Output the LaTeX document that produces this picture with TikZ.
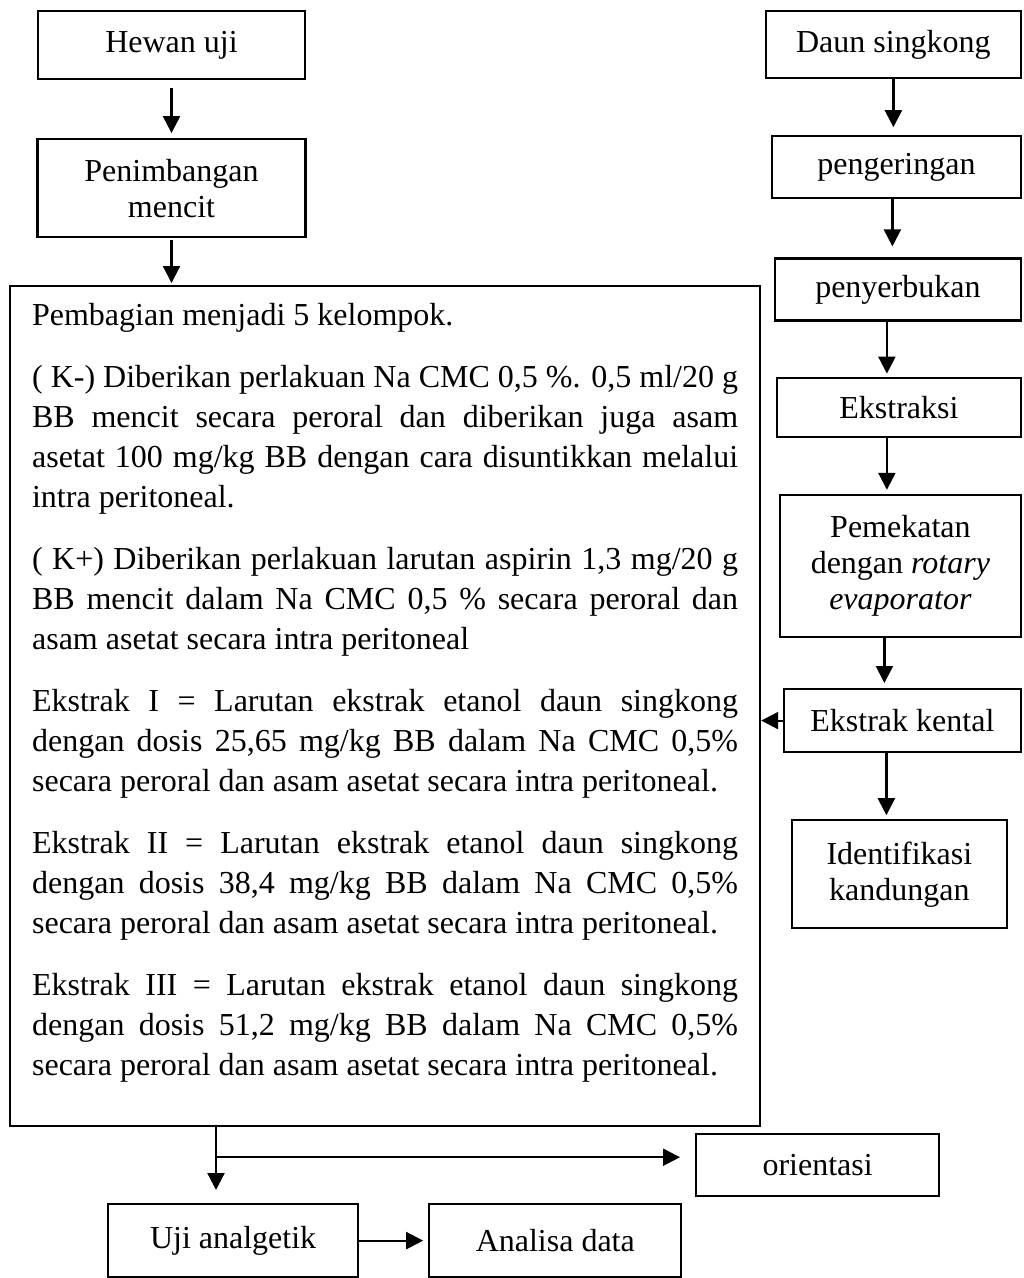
\documentclass[tikz,border=0pt]{standalone}
\usepackage{fontspec}
\setmainfont{Liberation Serif}
\usetikzlibrary{arrows.meta,positioning}

\begin{document}
\begin{tikzpicture}[x=1pt, y=-1pt, line width=2.2pt,
    kotak/.style = {draw, align=center, inner sep=0pt, font=\fontsize{32}{36}\selectfont},
    panah/.style = {-{Triangle[length=17pt, width=17pt]}}]
    \useasboundingbox (0,0) rectangle (1024,1278);
    % kolom kiri
    \node[kotak, minimum width=267pt, minimum height=68pt] (hewan) at (171.5,45) {Hewan uji};
    \node[kotak, minimum width=268pt, minimum height=98pt, below=58pt of hewan] (timbang) {Penimbangan\\mencit};
    \node[kotak, minimum width=750pt, minimum height=840pt, anchor=north west] (bagi) at (9,285) {};
    \node[anchor=base west, text width=706pt, align=justify, inner sep=0pt,
          font=\fontsize{32}{40}\selectfont] (isi) at (31,325)
        {\setlength{\parskip}{22pt}\hyphenpenalty=10000 \tolerance=9999
         Pembagian menjadi 5 kelompok.\par
         ( K-) Diberikan perlakuan Na CMC 0,5 \%. 0,5 ml/20 g\linebreak
         BB mencit secara peroral dan diberikan juga asam\linebreak
         asetat 100 mg/kg BB dengan cara disuntikkan melalui\linebreak
         intra peritoneal.\par
         ( K+) Diberikan perlakuan larutan aspirin 1,3 mg/20 g\linebreak
         BB mencit dalam Na CMC 0,5 \% secara peroral dan\linebreak
         asam asetat secara intra peritoneal\par
         Ekstrak I = Larutan ekstrak etanol daun singkong\linebreak
         dengan dosis 25,65 mg/kg BB dalam Na CMC 0,5\%\linebreak
         secara peroral dan asam asetat secara intra peritoneal.\par
         Ekstrak II = Larutan ekstrak etanol daun singkong\linebreak
         dengan dosis 38,4 mg/kg BB dalam Na CMC 0,5\%\linebreak
         secara peroral dan asam asetat secara intra peritoneal.\par
         Ekstrak III = Larutan ekstrak etanol daun singkong\linebreak
         dengan dosis 51,2 mg/kg BB dalam Na CMC 0,5\%\linebreak
         secara peroral dan asam asetat secara intra peritoneal.\par};
    % kolom kanan
    \node[kotak, minimum width=255pt, minimum height=67pt, anchor=north east] (daun) at (1022,10) {Daun singkong};
    \node[kotak, minimum width=249pt, minimum height=62pt, below=56pt of daun.south east, anchor=north east] (kering) {pengeringan};
    \node[kotak, minimum width=246pt, minimum height=62pt, below=58pt of kering.south east, anchor=north east] (serbuk) {penyerbukan};
    \node[kotak, minimum width=244pt, minimum height=59pt, below=55pt of serbuk.south east, anchor=north east] (ekstraksi) {Ekstraksi};
    \node[kotak, minimum width=241pt, minimum height=142pt, below=56pt of ekstraksi.south east, anchor=north east] (pekat) {Pemekatan\\dengan \textit{rotary}\\\textit{evaporator}};
    \node[kotak, minimum width=237pt, minimum height=63pt, below=50pt of pekat.south east, anchor=north east] (kental) {Ekstrak kental};
    \node[kotak, minimum width=215pt, minimum height=108pt, below=66pt of kental, xshift=-3pt] (identifikasi) {Identifikasi\\kandungan};
    % bagian bawah
    \node[kotak, minimum width=243pt, minimum height=62pt, anchor=north west] (orientasi) at (695,1133) {orientasi};
    \node[kotak, minimum width=250pt, minimum height=73pt, anchor=north west] (uji) at (107,1203) {Uji analgetik};
    \node[kotak, minimum width=252pt, minimum height=73pt, right=69pt of uji] (analisa) {Analisa data};
    \coordinate (turun) at ([xshift=207pt]bagi.south west);
    \coordinate (cabang) at ([yshift=-30pt]turun);
    % panah
    \draw[panah, shorten <=8pt, shorten >=5pt] (hewan) -- (timbang);
    \draw[panah, shorten <=2pt, shorten >=2pt] (timbang) -- (timbang |- bagi.north);
    \draw[panah, shorten >=8pt] (daun) -- (daun |- kering.north);
    \draw[panah, shorten >=11pt] ([xshift=-4pt]kering.south) -- ([xshift=-4pt]kering.south |- serbuk.north);
    \draw[panah, shorten >=3pt] ([xshift=-11pt]serbuk.south) -- ([xshift=-11pt]serbuk.south |- ekstraksi.north);
    \draw[panah, shorten >=4pt] ([xshift=-12pt]ekstraksi.south) -- ([xshift=-12pt]ekstraksi.south |- pekat.north);
    \draw[panah, shorten >=5pt] ([xshift=-16pt]pekat.south) -- ([xshift=-16pt]pekat.south |- kental.north);
    \draw[panah, shorten >=4pt] ([xshift=-16pt]kental.south) -- ([xshift=-16pt]kental.south |- identifikasi.north);
    \draw[panah] (kental.west) -- (kental.west -| bagi.east);
    \draw[panah, shorten >=13pt] (turun) -- (turun |- uji.north);
    \draw[panah, shorten >=15pt] (cabang) -- (cabang -| orientasi.west);
    \draw[panah, shorten >=5pt] (uji) -- (analisa);
\end{tikzpicture}
\end{document}
